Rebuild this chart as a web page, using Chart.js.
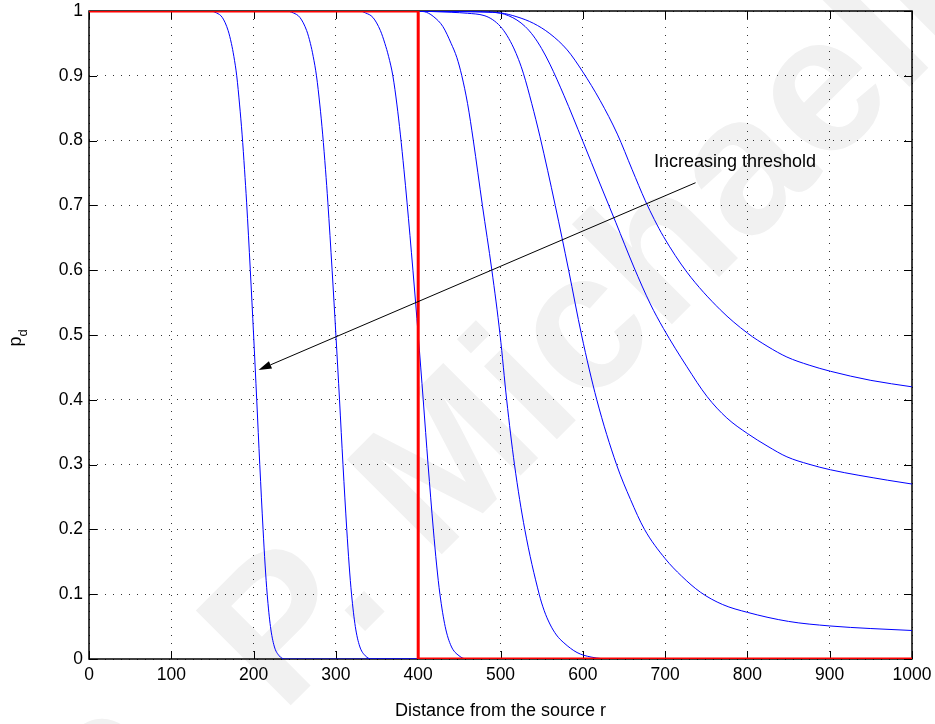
<!DOCTYPE html>
<html>
<head>
<meta charset="utf-8">
<title>Detection probability vs distance</title>
<script src="https://cdn.jsdelivr.net/npm/chart.js@4.4.1/dist/chart.umd.min.js"></script>
<style>
  body { margin: 0; background: #fff; }
  #pdChart { display: block; }
</style>
</head>
<body>
<canvas id="pdChart" width="935" height="724"></canvas>
<script>
// Detection probability p_d against distance r, one curve per threshold
const curve1X = [0, 147, 155, 162, 169, 173, 176, 179.5, 183, 186, 189, 191.5, 196, 200, 203.8, 207.5, 211.5, 214, 216.5, 220.5, 225, 231, 238, 1000];
const curve1Y = [1, 1, 0.997, 0.99, 0.97, 0.95, 0.93, 0.9, 0.855, 0.81, 0.755, 0.705, 0.6, 0.5, 0.4, 0.3, 0.2, 0.145, 0.1, 0.05, 0.02, 0.005, 0, 0];

const curve2X = [0, 239, 248.3, 256.3, 264.4, 269, 272.4, 276.4, 280.5, 283.9, 287.4, 290.2, 295.4, 300, 304.4, 308.6, 313.2, 316.1, 319, 323.6, 328.8, 335.7, 343.7, 1000];
const curve2Y = [1, 1, 0.997, 0.99, 0.97, 0.95, 0.93, 0.9, 0.855, 0.81, 0.755, 0.705, 0.6, 0.5, 0.4, 0.3, 0.2, 0.145, 0.1, 0.05, 0.02, 0.005, 0, 0];

const curve3X = [0, 329, 336, 345, 354, 359.5, 364, 369.2, 374.2, 378.3, 382.7, 386.4, 393.6, 400, 406.1, 412, 418.4, 422.4, 426.4, 432.8, 440, 449.6, 459, 1000];
const curve3Y = [1, 1, 0.997, 0.99, 0.97, 0.95, 0.93, 0.9, 0.855, 0.81, 0.755, 0.705, 0.6, 0.5, 0.4, 0.3, 0.2, 0.145, 0.1, 0.05, 0.02, 0.005, 0, 0];

const curve4X = [400, 410, 419, 430, 440, 447, 453, 460, 467, 478, 489.5, 499.5, 507.5, 517, 529.5, 547, 553, 560, 568, 577, 593, 610, 635, 1000];
const curve4Y = [1, 0.998, 0.991, 0.976, 0.95, 0.928, 0.9, 0.857, 0.8, 0.7, 0.6, 0.5, 0.4, 0.3, 0.2, 0.1, 0.075, 0.054, 0.037, 0.025, 0.01, 0.003, 0, 0];

const curve5X = [400, 440, 460, 480, 490, 500, 508, 516, 522, 528, 538, 548, 566.5, 582.8, 598.5, 617, 641, 658, 675, 700, 720, 743, 770, 800, 850, 900, 950, 1000];
const curve5Y = [1, 0.998, 0.9965, 0.993, 0.987, 0.976, 0.962, 0.943, 0.925, 0.903, 0.857, 0.806, 0.7, 0.6, 0.5, 0.4, 0.3, 0.246, 0.2, 0.155, 0.128, 0.103, 0.084, 0.072, 0.058, 0.051, 0.047, 0.044];

const curve6X = [400, 460, 480, 500, 510, 520, 530, 540, 550, 560, 577, 600, 621, 640, 662, 682, 698, 726.5, 751, 775, 800, 825, 848, 875, 901, 970, 1000];
const curve6Y = [1, 0.999, 0.9985, 0.9966, 0.9926, 0.986, 0.976, 0.9615, 0.942, 0.918, 0.87, 0.799, 0.733, 0.674, 0.605, 0.548, 0.51, 0.451, 0.405, 0.372, 0.348, 0.328, 0.312, 0.3005, 0.292, 0.276, 0.27];

const curve7X = [400, 460, 500, 520, 540, 560, 581, 600, 621, 642, 660, 676, 687, 698, 726.5, 767, 800, 825, 848, 875, 901, 950, 1000];
const curve7Y = [1, 0.999, 0.997, 0.991, 0.981, 0.965, 0.94, 0.906, 0.862, 0.81, 0.755, 0.707, 0.678, 0.652, 0.597, 0.539, 0.503, 0.482, 0.466, 0.4535, 0.444, 0.43, 0.42];

// Ideal (step) detector: detects everything inside r = 400
const stepX = [0, 400, 400, 1000];
const stepY = [1, 1, 0, 0];

const xTicks = [0, 100, 200, 300, 400, 500, 600, 700, 800, 900, 1000];
const yTicks = [0, 0.1, 0.2, 0.3, 0.4, 0.5, 0.6, 0.7, 0.8, 0.9, 1];

// annotation arrow, in data units
const arrowStart = [737, 0.735];
const arrowEnd = [206, 0.446];
const noteText = 'Increasing threshold';
const notePos = [686.5, 0.759];

const xTitle = 'Distance from the source r';
const watermarkText = 'S. P. Michaelides';

const FONT = '"Liberation Sans", Arial, Helvetica, sans-serif';

function toPoints(xs, ys) {
    return xs.map((x, i) => ({ x: x, y: ys[i] }));
}

function blueCurve(xs, ys) {
    return {
        data: toPoints(xs, ys),
        borderColor: '#0000ff',
        borderWidth: 1,
        pointRadius: 0,
        cubicInterpolationMode: 'monotone',
        fill: false,
        order: 1,
    };
}

// scales keep exactly the size given, no extra room for edge labels
function noPadding(scale) {
    scale.paddingLeft = 0;
    scale.paddingRight = 0;
    scale.paddingTop = 0;
    scale.paddingBottom = 0;
}

// Background, watermark, box with inward ticks, arrow and titles
const decorations = {
    id: 'decorations',
    beforeDraw(chart) {
        const ctx = chart.ctx;
        ctx.save();
        ctx.fillStyle = '#ffffff';
        ctx.fillRect(0, 0, chart.width, chart.height);
        ctx.translate(113, 883);
        ctx.rotate(-Math.PI / 4);
        ctx.font = 'bold 195px ' + FONT;
        ctx.fillStyle = '#f1f1f1';
        ctx.textBaseline = 'alphabetic';
        ctx.fillText(watermarkText, 0, 0);
        ctx.restore();
    },
    beforeDatasetsDraw(chart) {
        const ctx = chart.ctx;
        const area = chart.chartArea;
        const xs = chart.scales.x;
        const ys = chart.scales.y;
        const tickLen = 8;
        ctx.save();
        ctx.strokeStyle = '#000';
        ctx.lineWidth = 1;
        ctx.beginPath();
        xTicks.forEach(v => {
            const px = Math.round(xs.getPixelForValue(v)) + 0.5;
            ctx.moveTo(px, area.bottom);
            ctx.lineTo(px, area.bottom - tickLen);
            ctx.moveTo(px, area.top);
            ctx.lineTo(px, area.top + tickLen);
        });
        yTicks.forEach(v => {
            const py = Math.round(ys.getPixelForValue(v)) + 0.5;
            ctx.moveTo(area.left, py);
            ctx.lineTo(area.left + tickLen, py);
            ctx.moveTo(area.right, py);
            ctx.lineTo(area.right - tickLen, py);
        });
        ctx.stroke();
        ctx.lineWidth = 1.5;
        ctx.strokeRect(area.left, area.top, area.right - area.left, area.bottom - area.top);
        ctx.restore();
    },
    afterDatasetsDraw(chart) {
        const ctx = chart.ctx;
        const xs = chart.scales.x;
        const ys = chart.scales.y;
        const x1 = xs.getPixelForValue(arrowStart[0]);
        const y1 = ys.getPixelForValue(arrowStart[1]);
        const x2 = xs.getPixelForValue(arrowEnd[0]);
        const y2 = ys.getPixelForValue(arrowEnd[1]);
        const ang = Math.atan2(y2 - y1, x2 - x1);
        const headLen = 13;
        const headHalf = 4;
        const bx = x2 - headLen * Math.cos(ang);
        const by = y2 - headLen * Math.sin(ang);

        ctx.save();
        ctx.strokeStyle = '#000';
        ctx.fillStyle = '#000';
        ctx.lineWidth = 1;
        ctx.beginPath();
        ctx.moveTo(x1, y1);
        ctx.lineTo(bx, by);
        ctx.stroke();
        ctx.beginPath();
        ctx.moveTo(x2, y2);
        ctx.lineTo(bx + headHalf * Math.sin(ang), by - headHalf * Math.cos(ang));
        ctx.lineTo(bx - headHalf * Math.sin(ang), by + headHalf * Math.cos(ang));
        ctx.closePath();
        ctx.fill();

        ctx.font = '18px ' + FONT;
        ctx.textAlign = 'left';
        ctx.textBaseline = 'alphabetic';
        ctx.fillText(noteText, xs.getPixelForValue(notePos[0]), ys.getPixelForValue(notePos[1]));
        ctx.restore();
    },
    afterDraw(chart) {
        const ctx = chart.ctx;
        const area = chart.chartArea;
        ctx.save();
        ctx.fillStyle = '#000';
        ctx.font = '18px ' + FONT;
        ctx.textAlign = 'center';
        ctx.textBaseline = 'alphabetic';
        ctx.fillText(xTitle, (area.left + area.right) / 2, 716);

        // y title: p with subscript d, rotated
        ctx.translate(21.3, 346.6);
        ctx.rotate(-Math.PI / 2);
        ctx.textAlign = 'left';
        ctx.fillText('p', 0, 0);
        const pw = ctx.measureText('p').width;
        ctx.font = '13px ' + FONT;
        ctx.fillText('d', pw, 6);
        ctx.restore();
    },
};

const tickFont = { family: FONT, size: 17.5 };

new Chart(document.getElementById('pdChart'), {
    type: 'line',
    data: {
        datasets: [
            {
                data: toPoints(stepX, stepY),
                borderColor: '#ff0000',
                borderWidth: 3,
                pointRadius: 0,
                tension: 0,
                fill: false,
                order: 0,
            },
            blueCurve(curve1X, curve1Y),
            blueCurve(curve2X, curve2Y),
            blueCurve(curve3X, curve3Y),
            blueCurve(curve4X, curve4Y),
            blueCurve(curve5X, curve5Y),
            blueCurve(curve6X, curve6Y),
            blueCurve(curve7X, curve7Y),
        ],
    },
    options: {
        responsive: false,
        animation: false,
        devicePixelRatio: 1,
        layout: { padding: { top: 11, right: 23, left: 0, bottom: 0 } },
        plugins: {
            legend: { display: false },
            tooltip: { enabled: false },
        },
        scales: {
            x: {
                type: 'linear',
                min: 0,
                max: 1000,
                afterBuildTicks: scale => { scale.ticks = xTicks.map(v => ({ value: v })); },
                afterFit: scale => { scale.height = 65; noPadding(scale); },
                grid: { color: '#333', lineWidth: 1, drawTicks: false },
                border: { display: false, dash: [1, 7] },
                ticks: {
                    autoSkip: false,
                    maxRotation: 0,
                    padding: 6,
                    color: '#000',
                    font: tickFont,
                    callback: v => String(v),
                },
            },
            y: {
                type: 'linear',
                min: 0,
                max: 1,
                afterBuildTicks: scale => { scale.ticks = yTicks.map(v => ({ value: v })); },
                afterFit: scale => { scale.width = 89; noPadding(scale); },
                grid: { color: '#333', lineWidth: 1, drawTicks: false },
                border: { display: false, dash: [1, 7] },
                ticks: {
                    autoSkip: false,
                    padding: 6,
                    color: '#000',
                    font: tickFont,
                    callback: v => String(v),
                },
            },
        },
    },
    plugins: [decorations],
});
</script>
</body>
</html>
